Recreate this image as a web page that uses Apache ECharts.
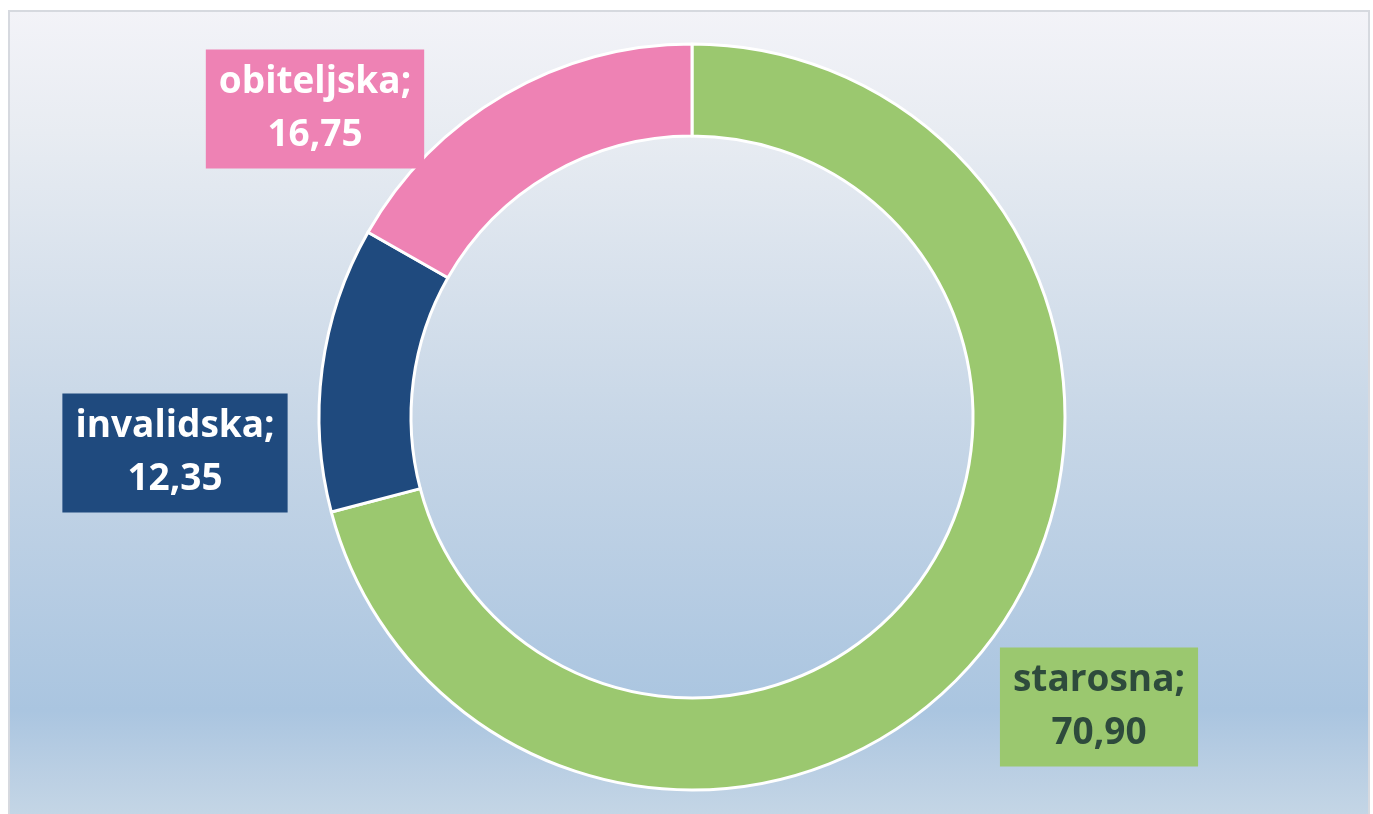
<!DOCTYPE html>
<html>
<head>
<meta charset="utf-8">
<script src="https://cdn.jsdelivr.net/npm/echarts@6/dist/echarts.min.js"></script>
<style>
  html, body { margin: 0; padding: 0; background: #fff; }
  #chart { width: 1373px; height: 814px; }
</style>
</head>
<body>
<div id="chart"></div>
<script>
const categories = ['starosna', 'invalidska', 'obiteljska']
const values = [70.90, 12.35, 16.75]
const colors = ['#9bc86f', '#1f4a7e', '#ee82b4']
const labelColors = ['#2e4b3c', '#ffffff', '#ffffff']
// label box centres (pixels), one per category
const labelSpots = [[1099, 707], [175, 453], [315, 109]]

const chart = echarts.init(document.getElementById('chart'))

chart.setOption({
  animation: false,
  graphic: [
    {
      type: 'rect',
      z: -10,
      silent: true,
      shape: { x: 9, y: 11, width: 1360, height: 812 },
      style: {
        fill: new echarts.graphic.LinearGradient(0, 0, 0, 1, [
          { offset: 0, color: '#f3f3f8' },
          { offset: 0.15, color: '#e8ecf2' },
          { offset: 0.5, color: '#c8d7e7' },
          { offset: 0.86, color: '#aac5e0' },
          { offset: 0.93, color: '#b9cee3' },
          { offset: 1, color: '#c6d7e6' },
        ]),
        stroke: '#d6d9df',
        lineWidth: 2,
      },
    },
  ],
  series: [
    {
      type: 'pie',
      center: [692, 417],
      radius: [281, 373],
      startAngle: 90,
      clockwise: true,
      avoidLabelOverlap: false,
      itemStyle: { borderColor: '#ffffff', borderWidth: 3 },
      labelLine: { show: false },
      emphasis: { disabled: true },
      label: {
        show: true,
        position: 'outside',
        fontFamily: 'Open Sans',
        fontWeight: 'bold',
        fontSize: 37,
        lineHeight: 53,
        align: 'center',
        padding: [7, 13, 6, 13],
        formatter: (p) => p.name + ';\n' + p.value.toFixed(2).replace('.', ','),
      },
      labelLayout: (params) => {
        const spot = labelSpots[params.dataIndex]
        return { x: spot[0], y: spot[1], align: 'center', verticalAlign: 'middle' }
      },
      data: categories.map((name, i) => ({
        name,
        value: values[i],
        itemStyle: { color: colors[i] },
        label: { color: labelColors[i], backgroundColor: colors[i] },
      })),
    },
  ],
})
</script>
</body>
</html>
